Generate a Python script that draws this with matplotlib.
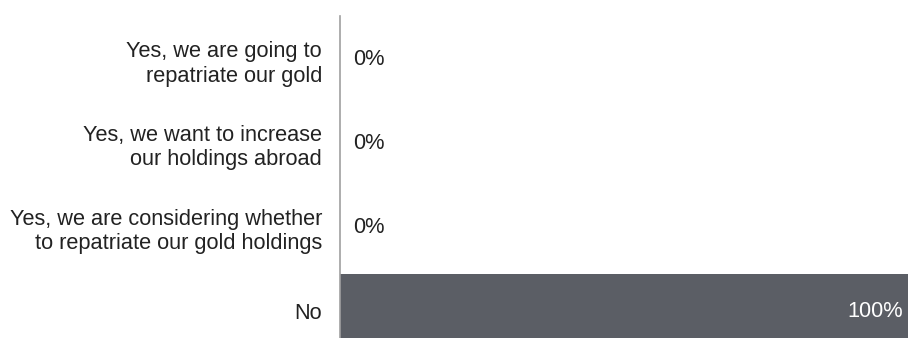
import matplotlib.pyplot as plt

plt.rcParams['font.family'] = ['Liberation Sans', 'DejaVu Sans']

categories = [
    'Yes, we are going to\nrepatriate our gold',
    'Yes, we want to increase\nour holdings abroad',
    'Yes, we are considering whether\nto repatriate our gold holdings',
    'No',
]
values = [0, 0, 0, 100]
labels = ['0%', '0%', '0%', '100%']

fig = plt.figure(figsize=(9.08, 3.38), dpi=100)
# axes from x=340px to right edge, y=16px to bottom
ax = fig.add_axes([340 / 908, 0, 568 / 908, (338 - 16) / 338])

ypos = list(range(len(categories)))
ax.barh(ypos, values, height=0.88, color='#5b5e65')

ax.set_xlim(0, 100)
ax.set_ylim(3.32, -0.525)
ax.set_yticks(ypos)
ax.set_yticklabels(categories, fontsize=15.7, color='#222222', ha='right',
                   linespacing=1.2)
ax.tick_params(axis='y', length=0, pad=13)
ax.set_xticks([])

for s in ['top', 'right', 'bottom']:
    ax.spines[s].set_visible(False)
ax.spines['left'].set_color('#a0a0a0')
ax.spines['left'].set_linewidth(1.2)

for y, v, lab in zip(ypos, values, labels):
    if v >= 50:
        ax.text(v - 0.9, y, lab, ha='right', va='center', fontsize=15.7, color='white')
    else:
        ax.text(2.3, y, lab, ha='left', va='center', fontsize=15.7, color='#222222')

fig.savefig('out.png', dpi=100)
